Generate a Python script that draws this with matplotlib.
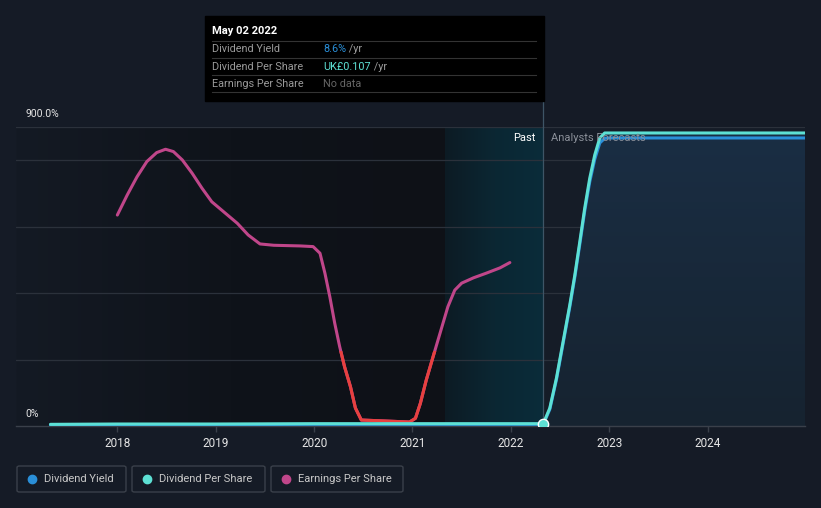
import numpy as np
import matplotlib
matplotlib.use("Agg")
import matplotlib.pyplot as plt
from matplotlib.patches import Rectangle, FancyBboxPatch
from matplotlib.colors import LinearSegmentedColormap

plt.rcParams['font.family'] = ['Roboto', 'DejaVu Sans']

# ---- data (decimal years, values in %) ----
eps_x = [2018.00, 2018.10, 2018.20, 2018.30, 2018.40, 2018.49, 2018.57, 2018.66, 2018.76,
         2018.86, 2018.96, 2019.08, 2019.22, 2019.33, 2019.45, 2019.59, 2019.86, 2019.99,
         2020.06, 2020.11, 2020.16, 2020.21, 2020.26, 2020.31, 2020.37, 2020.42, 2020.48,
         2020.97, 2021.03, 2021.08, 2021.14, 2021.21, 2021.28, 2021.36, 2021.43, 2021.50,
         2021.62, 2021.75, 2021.89, 2021.99]
eps_y = [635, 695, 750, 796, 823, 833, 826, 801, 761,
         716, 675, 645, 610, 575, 548, 544, 542, 540,
         520, 460, 389, 309, 239, 178, 118, 54, 18,
         12, 23, 68, 138, 209, 279, 359, 409, 430,
         446, 460, 476, 492]

div_past_x = [2017.32, 2018.0, 2019.0, 2020.0, 2021.0, 2022.0, 2022.33]
dps_past_y = [5, 6, 6, 7, 7, 7, 7]
dy_past_y = [3, 4, 4, 5, 5, 5, 5]

fc_x = [2022.33, 2022.396, 2022.464, 2022.531, 2022.599, 2022.650, 2022.701, 2022.751,
        2022.802, 2022.853, 2022.904, 2022.954, 2023.0, 2024.0, 2024.99]
dps_fc_y = [7, 54, 145, 254, 364, 454, 555, 656, 746, 816, 867, 882, 882, 882, 882]
dy_fc_y = [5, 50, 140, 248, 358, 447, 547, 647, 735, 803, 852, 866, 867, 867, 867]

year_ticks = [2018, 2019, 2020, 2021, 2022, 2023, 2024]
grid_vals = [200, 400, 600, 800, 900]

W, H = 821, 508
BG = '#151b26'
fig = plt.figure(figsize=(W / 100, H / 100), dpi=100, facecolor=BG)
ax = fig.add_axes([16 / W, (H - 426) / H, 789 / W, 299 / H])
ax.set_facecolor(BG)
x0, x1 = 2016.97, 2024.99
ax.set_xlim(x0, x1)
ax.set_ylim(0, 900)
x_now = 2022.33
x_band = 2021.33

# past region gradient
cm_past = LinearSegmentedColormap.from_list('p', ['#141a24', '#0f131a', '#0e1117'])
grad = np.linspace(0, 1, 256).reshape(1, -1)
ax.imshow(grad, extent=[x0, x_band, 0, 900], aspect='auto', cmap=cm_past, zorder=0)
cm_band = LinearSegmentedColormap.from_list('b', ['#0d1b24', '#0b2733', '#0a2c3a'])
ax.imshow(grad, extent=[x_band, x_now, 0, 900], aspect='auto', cmap=cm_band, zorder=0)
# forecast background
ax.add_patch(Rectangle((x_now, 0), x1 - x_now, 900, color='#151c27', zorder=0, lw=0))

# gridlines
for g in grid_vals:
    ax.axhline(g, color='#2b313b', lw=0.9, zorder=1)

# forecast fill with vertical gradient
poly = ax.fill_between(fc_x, 0, dps_fc_y, color='none', zorder=1, lw=0)
cm_fc = LinearSegmentedColormap.from_list('f', ['#162330', '#1a2e44'])
vgrad = np.linspace(0, 1, 256).reshape(-1, 1)
im = ax.imshow(vgrad, extent=[x_now, x1, 0, 900], origin='lower', aspect='auto', cmap=cm_fc, zorder=1)
im.set_clip_path(poly.get_paths()[0], transform=ax.transData)

# vertical "now" line
ax.plot([x_now, x_now], [0, 1.0], transform=ax.get_xaxis_transform(), color='#3e5566', lw=0.9, zorder=2)
fig.add_artist(plt.Line2D([(16 + (x_now - x0) / (x1 - x0) * 789) / W] * 2,
                          [(H - 127) / H, (H - 101) / H], color='#3e5566', lw=0.9))

# EPS line: magenta with red part where low
kw = dict(lw=2.2, solid_capstyle='round', solid_joinstyle='round')
ax.plot(eps_x, eps_y, color='#c0468a', zorder=3, **kw)
red, = ax.plot(eps_x, eps_y, color='#e8403f', zorder=4, **kw)
clip = Rectangle((x0, -10), x1 - x0, 235, transform=ax.transData)
red.set_clip_path(clip)

# dividend lines
ax.plot(div_past_x, dy_past_y, color='#2a8fd8', zorder=5, **kw)
ax.plot(div_past_x, dps_past_y, color='#5de0d4', zorder=6, **kw)
ax.plot(fc_x, dy_fc_y, color='#2a8fd8', zorder=5, **kw)
ax.plot(fc_x, dps_fc_y, color='#5de0d4', zorder=6, **kw)
ax.scatter([x_now], [6], s=55, color='#5de0d4', edgecolor='white', linewidth=1.0, zorder=7)

# axes styling
for s in ['top', 'right', 'left']:
    ax.spines[s].set_visible(False)
ax.spines['bottom'].set_color('#3a404a')
ax.spines['bottom'].set_linewidth(1.0)
ax.set_yticks([])
ax.set_xticks(year_ticks)
ax.set_xticklabels([str(y) for y in year_ticks], color='#e6e6e6', fontsize=8.5)
ax.tick_params(axis='x', colors='#3a404a', length=4, width=1, pad=4, labelcolor='#e6e6e6')

# texts
fig.text(25 / W, 1 - 114 / H, '900.0%', color='#e6e6e6', fontsize=7.5, va='center', ha='left')
fig.text(25 / W, 1 - 414 / H, '0%', color='#e6e6e6', fontsize=7.5, va='center', ha='left')
fig.text(535 / W, 1 - 138 / H, 'Past', color='#ffffff', fontsize=8, va='center', ha='right')
fig.text(551 / W, 1 - 138 / H, 'Analysts Forecasts', color='#8b9099', fontsize=8, va='center', ha='left')

# tooltip
fig.patches.append(Rectangle((205 / W, 1 - 101 / H), 339 / W, 85 / H, transform=fig.transFigure,
                             color='#000000', zorder=10))
fig.text(212 / W, 1 - 31 / H, 'May 02 2022', color='#ffffff', fontsize=8, fontweight='bold',
         va='center', ha='left', zorder=11)
for yy in [41, 58, 75, 92]:
    fig.add_artist(plt.Line2D([212 / W, 536 / W], [1 - yy / H] * 2, color='#333333', lw=0.8, zorder=11))
rows = [('Dividend Yield', '8.6%', '#2a8fd8', ' /yr'),
        ('Dividend Per Share', 'UK£0.107', '#5de0d4', ' /yr'),
        ('Earnings Per Share', 'No data', '#666666', '')]
for i, (lab, val, col, suf) in enumerate(rows):
    yy = 1 - (49 + i * 17.5) / H
    fig.text(212 / W, yy, lab, color='#9a9a9a', fontsize=7.8, va='center', ha='left', zorder=11)
    t = fig.text(323 / W, yy, val, color=col, fontsize=7.8, va='center', ha='left', zorder=11)
    if suf:
        fig.canvas.draw()
        bb = t.get_window_extent()
        fig.text(bb.x1 / W, yy, suf, color='#9a9a9a', fontsize=7.8, va='center', ha='left', zorder=11)

# legend boxes
legend = [('Dividend Yield', '#2a8fd8', 17, 126), ('Dividend Per Share', '#5de0d4', 132, 265),
          ('Earnings Per Share', '#c0468a', 271, 403)]
for lab, col, lx0, lx1 in legend:
    fig.patches.append(FancyBboxPatch((lx0 / W, 1 - 492 / H), (lx1 - lx0) / W, 26 / H,
                                      boxstyle='round,pad=0,rounding_size=0.003', transform=fig.transFigure,
                                      facecolor='none', edgecolor='#3a404a', lw=1.0))
    fig.add_artist(plt.Line2D([(lx0 + 15) / W], [1 - 479 / H], marker='o', markersize=6,
                              color=col, linestyle='none'))
    fig.text((lx0 + 27) / W, 1 - 479 / H, lab, color='#c8c8c8', fontsize=8, va='center', ha='left')

fig.savefig('out.png', dpi=100, facecolor=BG)
